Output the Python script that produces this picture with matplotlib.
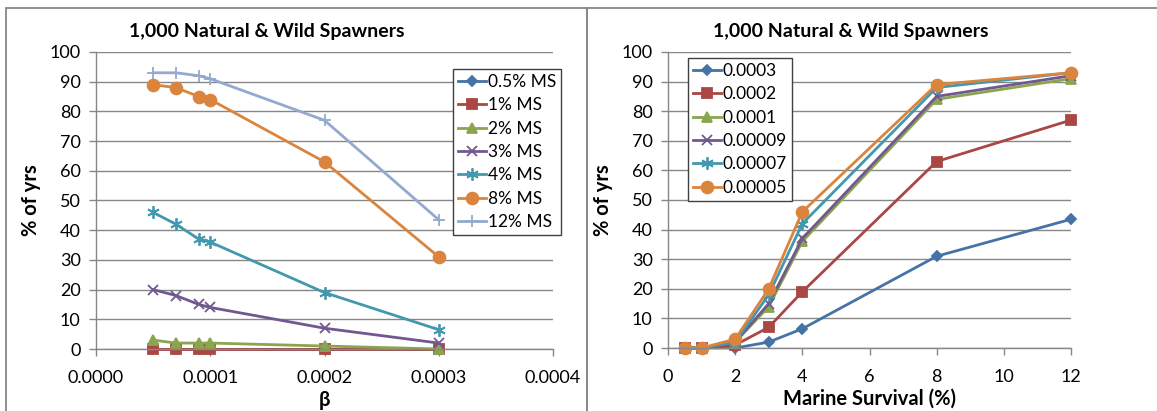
import numpy as np
import matplotlib
matplotlib.use("Agg")
import matplotlib.pyplot as plt
from matplotlib.patches import Rectangle

# ── Data: % of years, one list per beta value, ordered by marine survival ─────
marine_survival = [0.5, 1, 2, 3, 4, 8, 12]          # %
betas = [0.0003, 0.0002, 0.0001, 0.00009, 0.00007, 0.00005]
beta_labels = ["0.0003", "0.0002", "0.0001", "0.00009", "0.00007", "0.00005"]

pct_b0003 = [0, 0, 0, 2, 6.5, 31, 43.5]
pct_b0002 = [0, 0, 1, 7, 19, 63, 77]
pct_b0001 = [0, 0, 2, 14, 36, 84, 91]
pct_b00009 = [0, 0, 2, 15, 37, 85, 92]
pct_b00007 = [0, 0, 2, 18, 42, 88, 93]
pct_b00005 = [0, 0, 3, 20, 46, 89, 93]

ms_labels = ["0.5% MS", "1% MS", "2% MS", "3% MS", "4% MS", "8% MS", "12% MS"]

# ── Styles ────────────────────────────────────────────────────────────────────
C_BLUE, C_RED, C_GREEN = "#4572A7", "#AA4643", "#89A54E"
C_PURPLE, C_TEAL, C_ORANGE, C_LBLUE = "#71588F", "#4198AF", "#DB843D", "#93A9CF"
ASTER = (6, 2, 0)

ms_style = [
    (C_BLUE, "D", 5.5), (C_RED, "s", 7.5), (C_GREEN, "^", 7.5), (C_PURPLE, "x", 7.5),
    (C_TEAL, ASTER, 9), (C_ORANGE, "o", 8.5), (C_LBLUE, "+", 9),
]
beta_style = ms_style[:6]

W, H = 1157, 411
plt.rcParams.update({"font.family": ["Lato", "DejaVu Sans"], "font.size": 12.5})

fig = plt.figure(figsize=(W / 100, H / 100), dpi=100)


def px_axes(x0, y0, x1, y1):
    return fig.add_axes([x0 / W, 1 - y1 / H, (x1 - x0) / W, (y1 - y0) / H])


def style_axes(ax):
    ax.set_ylim(0, 100)
    ax.set_yticks(range(0, 101, 10))
    ax.grid(True, axis="y", color="#878787", lw=1)
    ax.set_axisbelow(True)
    for s in ("top", "right"):
        ax.spines[s].set_visible(False)
    for s in ("left", "bottom"):
        ax.spines[s].set_color("#878787")
        ax.spines[s].set_linewidth(1)
    ax.tick_params(direction="out", length=5, width=1, color="#878787",
                   labelsize=13)
    ax.tick_params(axis="y", pad=6)
    ax.tick_params(axis="x", pad=10)
    ax.set_ylabel("% of yrs", fontsize=14.5, fontweight="bold", labelpad=6)


def add_legend(ax, anchor):
    leg = ax.legend(loc="upper left", bbox_to_anchor=anchor,
                    frameon=True, fancybox=False, edgecolor="#404040",
                    framealpha=1, borderpad=0.3, labelspacing=0.42,
                    fontsize=12.5, handlelength=1.6, handletextpad=0.1,
                    borderaxespad=0)
    leg.get_frame().set_linewidth(1)
    return leg


# chart frames
for x0, x1 in [(6, 587), (587, 1160)]:
    fig.patches.append(Rectangle((x0 / W, -0.1), (x1 - x0) / W, 1 - 8 / H + 0.1,
                                 transform=fig.transFigure, fill=False,
                                 edgecolor="#878787", lw=1.3))

pct = np.array([pct_b0003, pct_b0002, pct_b0001, pct_b00009, pct_b00007, pct_b00005])

# ── Left: % of yrs vs beta, one line per marine survival ─────────────────────
ax1 = px_axes(96, 52, 553, 349)
order = np.argsort(betas)
bx = np.array(betas)[order]
for j, lab in enumerate(ms_labels):
    c, m, ms = ms_style[j]
    ax1.plot(bx, pct[order, j], color=c, marker=m, ms=ms, lw=2, mew=1.3,
             label=lab, clip_on=False)
ax1.set_xlim(0, 0.0004)
ax1.set_xticks([0, 0.0001, 0.0002, 0.0003, 0.0004])
ax1.set_xticklabels(["0.0000", "0.0001", "0.0002", "0.0003", "0.0004"])
style_axes(ax1)
ax1.set_xlabel("β", fontsize=14.5, fontweight="bold", labelpad=3)
add_legend(ax1, (357 / 457, 1 - 17 / 297))
fig.text(267 / W, 1 - 32 / H, "1,000 Natural & Wild Spawners", ha="center",
         va="center", fontsize=14, fontweight="bold")

# ── Right: % of yrs vs marine survival, one line per beta ────────────────────
ax2 = px_axes(668, 52, 1071, 348)
for i, lab in enumerate(beta_labels):
    c, m, ms = beta_style[i]
    ax2.plot(marine_survival, pct[i], color=c, marker=m, ms=ms, lw=2, mew=1.3,
             label=lab, clip_on=False)
ax2.set_xlim(0, 12)
ax2.set_xticks(range(0, 13, 2))
style_axes(ax2)
ax2.set_xlabel("Marine Survival (%)", fontsize=14.5, fontweight="bold", labelpad=3)
add_legend(ax2, (20 / 403, 1 - 6 / 296))
fig.text(851 / W, 1 - 32 / H, "1,000 Natural & Wild Spawners", ha="center",
         va="center", fontsize=14, fontweight="bold")

fig.savefig("out.png", dpi=100)
